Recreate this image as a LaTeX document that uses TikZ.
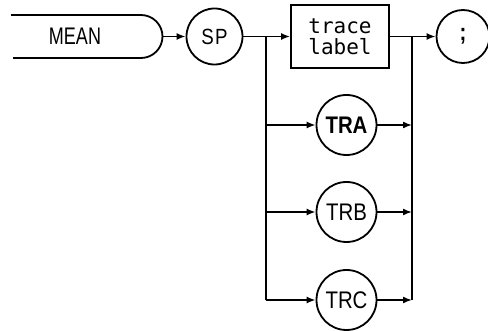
\documentclass[tikz,border=0pt]{standalone}
\usepackage{fontspec}
\usepackage{tikz}
\usetikzlibrary{arrows.meta}

\setmainfont{Liberation Sans}
\newfontfamily\kwfont[FakeStretch=0.85]{Liberation Sans}
\newfontfamily\meanfont[FakeStretch=0.75]{Liberation Sans}
\newfontfamily\parfont{DejaVu Sans Mono}

\begin{document}
\begin{tikzpicture}[x=1pt,y=-1pt,
  line width=1.6pt,
  kw/.style={circle, draw, line width=1.8pt, minimum size=56pt, inner sep=0pt,
    font=\kwfont\fontsize{24}{24}\selectfont},
  par/.style={rectangle, draw, line width=1.8pt, minimum width=98pt, minimum height=63pt,
    inner sep=0pt, align=center, font=\parfont\fontsize{21}{21}\selectfont},
  flow/.style={-{Latex[length=9pt,width=7pt]}}]

\useasboundingbox (0,0) rectangle (488,331);

% Riga principale
\def\ym{36.5}

% Comando MEAN (aperto a sinistra)
\draw[line width=1.8pt] (11,15) -- (141,15) arc[start angle=-90,end angle=90,radius=21.5] -- (13,58);
\node[font=\meanfont\fontsize{24}{24}\selectfont] (mean) at (75,\ym) {MEAN};
\coordinate (meanR) at (162.5,\ym);

% Nodi
\node[kw, font=\kwfont\fontsize{22}{22}\selectfont] (sp) at (214.5,\ym) {S\kern1.5pt P};
\node[par] (trace) at (340,\ym) {trace\\label};
\node[kw, minimum size=53pt] (semi) at (463,\ym) {\bfseries ;};
\node[kw, minimum size=60pt, font=\kwfont\bfseries\fontsize{24}{24}\selectfont] (tra) at (346.5,125) {TRA};
\node[kw, minimum size=60pt] (trb) at (346.5,212) {TRB};
\node[kw, minimum size=60pt] (trc) at (346.5,300) {TRC};

% Diramazione
\coordinate (splitL) at (266,\ym);
\coordinate (joinR) at (412,\ym);

\draw[flow] (meanR) -- (sp);
\draw (sp) -- (splitL);
\draw[flow] (splitL) -- (trace);
\draw (trace) -- (joinR);
\draw[flow] (joinR) -- (semi);

% Alternative TRA / TRB / TRC
\draw (splitL) -- (splitL |- trc);
\draw (joinR) -- (joinR |- trc);
\foreach \t in {tra,trb,trc}{
  \draw[flow] (splitL |- \t) -- (\t);
  \draw[flow] (\t) -- (joinR |- \t);
}

\end{tikzpicture}
\end{document}
